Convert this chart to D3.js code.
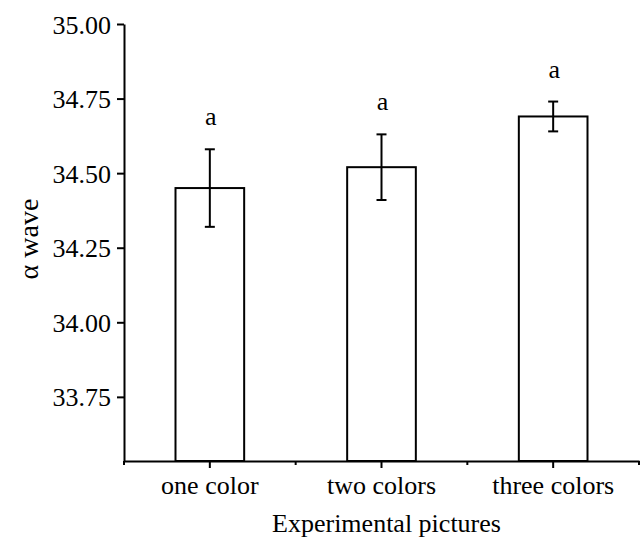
<!DOCTYPE html>
<html>
<head>
<meta charset="utf-8">
<script src="https://cdn.jsdelivr.net/npm/d3@7"></script>
<style>
  html, body { margin: 0; padding: 0; background: #fff; }
  svg { display: block; }
  text { font-family: "Liberation Serif", "Times New Roman", serif; fill: #000; }
</style>
</head>
<body>
<svg id="chart" width="644" height="538"></svg>
<script>
// Mean alpha-wave values by picture type, with error bars and significance letters
const categories = ["one color", "two colors", "three colors"];
const means = [34.45, 34.52, 34.69];
const errors = [0.13, 0.11, 0.05];
const letters = ["a", "a", "a"];
const yTicks = [33.75, 34.00, 34.25, 34.50, 34.75, 35.00];
const yMin = 33.535, yMax = 35.00;

(function draw() {
  const svg = d3.select("#chart");
  const plot = { left: 124, right: 639, top: 24, bottom: 461 };
  const fontSize = 26;
  const serif = '"Liberation Serif", "Times New Roman", serif';

  const x = d3.scaleBand().domain(categories).range([plot.left, plot.right]).padding(0);
  const y = d3.scaleLinear().domain([yMin, yMax]).range([plot.bottom, plot.top]);

  const data = categories.map((c, i) => ({ c, m: means[i], e: errors[i], l: letters[i] }));
  const barW = x.bandwidth() * 0.4;

  // bars
  svg.append("g").selectAll("rect").data(data).join("rect")
    .attr("x", d => x(d.c) + x.bandwidth() / 2 - barW / 2)
    .attr("y", d => y(d.m))
    .attr("width", barW)
    .attr("height", d => y(yMin) - y(d.m))
    .attr("fill", "#fff")
    .attr("stroke", "#000")
    .attr("stroke-width", 2);

  // error bars
  const eb = svg.append("g").attr("stroke", "#000").attr("stroke-width", 2);
  const cap = 5;
  data.forEach(d => {
    const cx = x(d.c) + x.bandwidth() / 2;
    eb.append("line").attr("x1", cx).attr("x2", cx).attr("y1", y(d.m + d.e)).attr("y2", y(d.m - d.e));
    eb.append("line").attr("x1", cx - cap).attr("x2", cx + cap).attr("y1", y(d.m + d.e)).attr("y2", y(d.m + d.e));
    eb.append("line").attr("x1", cx - cap).attr("x2", cx + cap).attr("y1", y(d.m - d.e)).attr("y2", y(d.m - d.e));
  });

  // significance letters
  svg.append("g").selectAll("text").data(data).join("text")
    .attr("x", d => x(d.c) + x.bandwidth() / 2 + 1)
    .attr("y", d => y(d.m + d.e) - 24)
    .attr("text-anchor", "middle")
    .style("font-size", fontSize + "px")
    .text(d => d.l);

  // y axis
  const yAxis = svg.append("g").attr("transform", `translate(${plot.left},0)`)
    .call(d3.axisLeft(y).tickValues(yTicks).tickFormat(d3.format(".2f")).tickSize(7).tickPadding(6).tickSizeOuter(0));
  yAxis.attr("font-family", serif);
  yAxis.select(".domain").attr("stroke-width", 2);
  yAxis.selectAll(".tick line").attr("stroke-width", 2);
  yAxis.selectAll("text").style("font-size", fontSize + "px").attr("dy", "0.35em");

  // x axis: labelled ticks at category centres, short ticks at band edges
  const xAxis = svg.append("g").attr("transform", `translate(0,${plot.bottom})`)
    .call(d3.axisBottom(x).tickSize(7).tickPadding(8).tickSizeOuter(0));
  xAxis.attr("font-family", serif);
  xAxis.select(".domain").attr("stroke-width", 2);
  xAxis.selectAll(".tick line").attr("stroke-width", 2);
  xAxis.selectAll("text").style("font-size", fontSize + "px");

  const edges = [...categories.map(c => x(c)), x.range()[1]];
  svg.append("g").selectAll("line").data(edges).join("line")
    .attr("x1", d => d).attr("x2", d => d)
    .attr("y1", plot.bottom).attr("y2", plot.bottom + 4)
    .attr("stroke", "#000").attr("stroke-width", 2);

  // axis titles
  svg.append("text")
    .attr("x", (plot.left + plot.right) / 2 + 5)
    .attr("y", 532)
    .attr("text-anchor", "middle")
    .style("font-size", fontSize + "px")
    .text("Experimental pictures");

  svg.append("text")
    .attr("transform", `translate(38,239) rotate(-90)`)
    .attr("text-anchor", "middle")
    .style("font-size", "28px")
    .text("α wave");
})();
</script>
</body>
</html>
